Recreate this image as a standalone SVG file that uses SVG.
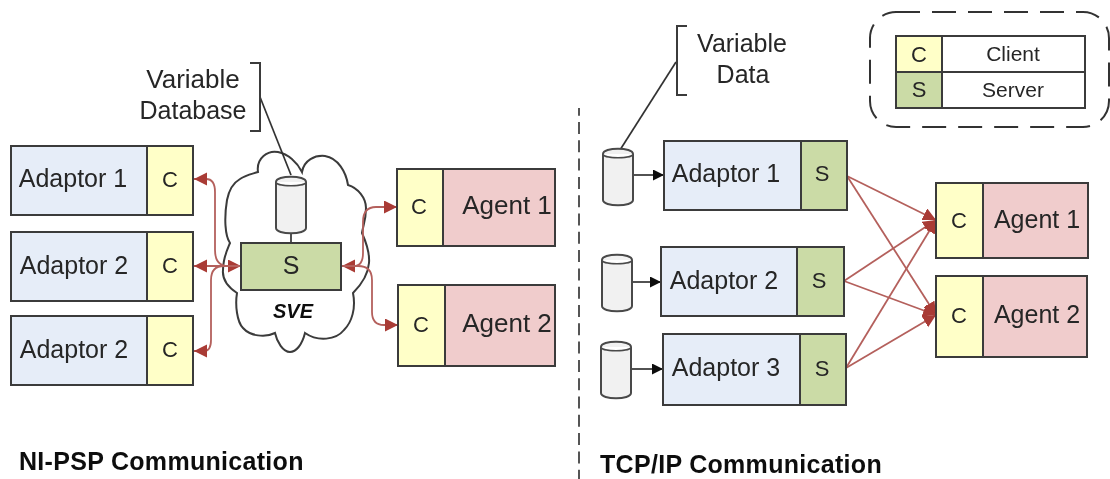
<svg xmlns="http://www.w3.org/2000/svg" width="1110" height="479" viewBox="0 0 1110 479">
<style>
text{font-family:"Liberation Sans",Arial,sans-serif;fill:#262626;text-anchor:middle}
.n{font-size:25px}
.t{font-size:26px}
.c{font-size:22px}
.l{font-size:21px}
.h{font-size:25px;font-weight:bold;fill:#111;text-anchor:start;letter-spacing:.3px}
.b{stroke:#3a3a3a;stroke-width:2;fill:none}
.a{fill:#e6edf8;stroke:#3a3a3a;stroke-width:2}
.y{fill:#ffffc8;stroke:#3a3a3a;stroke-width:2}
.g{fill:#cbdba6;stroke:#3a3a3a;stroke-width:2}
.p{fill:#f0cccc;stroke:#3a3a3a;stroke-width:2}
.w{fill:#fff;stroke:#3a3a3a;stroke-width:2}
.cy{fill:#f1f1f1;stroke:#4a4a4a;stroke-width:2}
.r{fill:none;stroke:#b4605c;stroke-width:1.8}
.k{fill:none;stroke:#333;stroke-width:1.7}
</style>
<defs>
<filter id="soft" filterUnits="userSpaceOnUse" x="0" y="0" width="1110" height="479"><feGaussianBlur stdDeviation="0.45"/></filter>
<marker id="ra" markerUnits="userSpaceOnUse" markerWidth="15" markerHeight="15" refX="13" refY="6.5" orient="auto-start-reverse"><path d="M0 0L13 6.5L0 13Z" fill="#a93a34"/></marker>
<marker id="ka" markerUnits="userSpaceOnUse" markerWidth="13" markerHeight="13" refX="11" refY="5.5" orient="auto"><path d="M0 0L11 5.5L0 11Z" fill="#111"/></marker>
<g id="cyl"><path class="cy" d="M0 5V51C0 58 30 58 30 51V5C30 -2 0 -2 0 5Z"/><path d="M0 5C0 10 30 10 30 5" fill="#fff" stroke="#4a4a4a" stroke-width="1.5"/></g>
</defs>
<g filter="url(#soft)">
<g id="cloud"><path class="b" d="M258 172C256 158 268 150 278 152C288 154 297 162 302 172C304 160 315 155 325 156C338 158 346 172 348 185C358 188 366 198 366 208C366 220 363 226 362 233C366 242 370 252 369 263C368 276 360 286 353 293C356 308 352 322 344 330C336 340 318 342 305 333C302 345 296 352 290 352C283 352 277 342 275 333C265 338 250 336 243 328C237 322 235 305 237 293C228 287 222 280 223 270C223 258 227 250 230 243C225 236 224 218 227 200C229 190 233 183 240 179C246 175 252 174 258 172Z"/></g>
<g id="connectors">
<path class="k" d="M260 97L291 175"/>
<path class="k" d="M676 62L620 150"/>
<path class="k" d="M291 232V243"/>
<path class="k" marker-end="url(#ka)" d="M633 175H664"/>
<path class="k" marker-end="url(#ka)" d="M632 282H661"/>
<path class="k" marker-end="url(#ka)" d="M631 369H663"/>
<path class="r" marker-start="url(#ra)" d="M194 179H206Q215 179 215 192V250Q215 266 228 266H241"/>
<path class="r" marker-start="url(#ra)" marker-end="url(#ra)" d="M194 266H241"/>
<path class="r" marker-start="url(#ra)" d="M194 351H204Q211 351 211 340V280Q211 266 224 266H241"/>
<path class="r" marker-start="url(#ra)" marker-end="url(#ra)" d="M342 266H354Q363 266 363 253V222Q363 207 376 207H397"/>
<path class="r" marker-end="url(#ra)" d="M342 266H358Q372 266 372 280V312Q372 325 384 325H398"/>
<path class="r" marker-end="url(#ra)" d="M847 176L936 220"/>
<path class="r" marker-end="url(#ra)" d="M847 176L936 315"/>
<path class="r" marker-end="url(#ra)" d="M844 281L936 220"/>
<path class="r" marker-end="url(#ra)" d="M844 281L936 315"/>
<path class="r" marker-end="url(#ra)" d="M846 368L936 220"/>
<path class="r" marker-end="url(#ra)" d="M846 368L936 315"/>
</g>
<g id="divider"><path d="M579 108V479" fill="none" stroke="#555" stroke-width="2" stroke-dasharray="12 6.3" stroke-dashoffset="4.3"/></g>
<g id="label-variable-database"><text class="t" x="193" y="88">Variable</text><text class="n" x="193" y="119">Database</text><path class="b" d="M250 63H260V131H250"/></g>
<g id="label-variable-data"><text class="n" x="742" y="52">Variable</text><text class="n" x="743" y="83">Data</text><path class="b" d="M687 26H677V95H687"/></g>
<g id="legend">
<rect x="870" y="12" width="239" height="115" rx="26" fill="none" stroke="#333" stroke-width="2" stroke-dasharray="24 12"/>
<rect class="y" x="896" y="36" width="46" height="36"/><rect class="w" x="942" y="36" width="143" height="36"/>
<rect class="g" x="896" y="72" width="46" height="36"/><rect class="w" x="942" y="72" width="143" height="36"/>
<text class="c" x="919" y="62">C</text><text class="l" x="1013" y="61">Client</text><text class="c" x="919" y="97">S</text><text class="l" x="1013" y="97">Server</text>
</g>
<g id="l-adaptor1"><rect class="a" x="11" y="146" width="136" height="69"/><rect class="y" x="147" y="146" width="46" height="69"/><text class="n" x="73" y="187">Adaptor 1</text><text class="c" x="170" y="187">C</text></g>
<g id="l-adaptor2"><rect class="a" x="11" y="232" width="136" height="69"/><rect class="y" x="147" y="232" width="46" height="69"/><text class="n" x="74" y="274">Adaptor 2</text><text class="c" x="170" y="273">C</text></g>
<g id="l-adaptor2b"><rect class="a" x="11" y="316" width="136" height="69"/><rect class="y" x="147" y="316" width="46" height="69"/><text class="n" x="74" y="358">Adaptor 2</text><text class="c" x="170" y="357">C</text></g>
<g id="sve-db"><use href="#cyl" x="276" y="177"/></g>
<g id="sve-server"><rect class="g" x="241" y="243" width="100" height="47"/><text class="n" x="291" y="274">S</text></g>
<text x="293" y="318" font-size="20" font-weight="bold" font-style="italic" style="fill:#111">SVE</text>
<g id="l-agent1"><rect class="y" x="397" y="169" width="46" height="77"/><rect class="p" x="443" y="169" width="112" height="77"/><text class="c" x="419" y="214">C</text><text class="t" x="507" y="214">Agent 1</text></g>
<g id="l-agent2"><rect class="y" x="398" y="285" width="47" height="81"/><rect class="p" x="445" y="285" width="110" height="81"/><text class="c" x="421" y="332">C</text><text class="t" x="507" y="332">Agent 2</text></g>
<g id="r-db1"><use href="#cyl" x="603" y="149"/></g>
<g id="r-db2"><use href="#cyl" x="602" y="255"/></g>
<g id="r-db3"><use href="#cyl" x="601" y="342"/></g>
<g id="r-adaptor1"><rect class="a" x="664" y="141" width="137" height="69"/><rect class="g" x="801" y="141" width="46" height="69"/><text class="n" x="726" y="182">Adaptor 1</text><text class="c" x="822" y="181">S</text></g>
<g id="r-adaptor2"><rect class="a" x="661" y="247" width="136" height="69"/><rect class="g" x="797" y="247" width="47" height="69"/><text class="n" x="724" y="289">Adaptor 2</text><text class="c" x="819" y="288">S</text></g>
<g id="r-adaptor3"><rect class="a" x="663" y="334" width="137" height="71"/><rect class="g" x="800" y="334" width="46" height="71"/><text class="n" x="726" y="376">Adaptor 3</text><text class="c" x="822" y="376">S</text></g>
<g id="r-agent1"><rect class="y" x="936" y="183" width="47" height="75"/><rect class="p" x="983" y="183" width="105" height="75"/><text class="c" x="959" y="228">C</text><text class="n" x="1037" y="228">Agent 1</text></g>
<g id="r-agent2"><rect class="y" x="936" y="276" width="47" height="81"/><rect class="p" x="983" y="276" width="104" height="81"/><text class="c" x="959" y="323">C</text><text class="n" x="1037" y="323">Agent 2</text></g>
<text class="h" x="19" y="470">NI-PSP Communication</text>
<text class="h" x="600" y="473">TCP/IP Communication</text>
</g>
</svg>
